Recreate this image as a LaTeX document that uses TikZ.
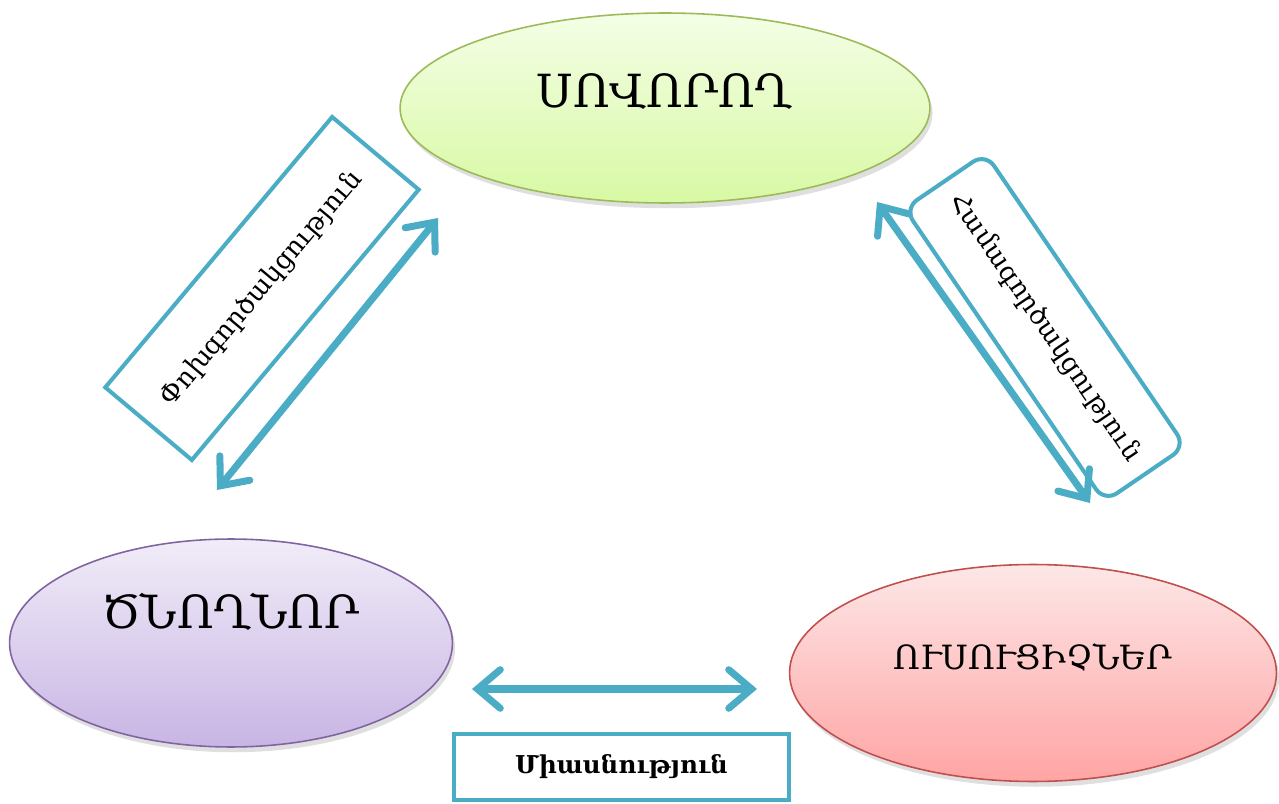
\documentclass[tikz,border=0pt]{standalone}
\usepackage{fontspec}
\setmainfont{DejaVu Serif}
\usetikzlibrary{arrows.meta,shapes.geometric,shadows}
\definecolor{linkblue}{HTML}{4BACC6}
\definecolor{learnerline}{HTML}{9BBB59}
\definecolor{learnertop}{HTML}{F4FEE6}
\definecolor{learnerbot}{HTML}{D8F9A4}
\definecolor{parentline}{HTML}{8064A2}
\definecolor{parenttop}{HTML}{F1ECF8}
\definecolor{parentbot}{HTML}{C8B5E4}
\definecolor{teacherline}{HTML}{C0504D}
\definecolor{teachertop}{HTML}{FDE7E7}
\definecolor{teacherbot}{HTML}{FFA4A4}
\begin{document}
\begin{tikzpicture}[x=0.02cm,y=-0.02cm,
	ell/.style={ellipse,draw,line width=0.9pt,inner sep=0pt,drop shadow={shadow xshift=1.5pt,shadow yshift=-3pt,opacity=0.25}},
	link/.style={linkblue,line width=4pt,>={Straight Barb[length=13pt,width=22pt,line cap=round,line join=miter]},<->},
	tag/.style={draw=linkblue,line width=2.3pt,fill=white,inner sep=0pt,font=\fontsize{15}{18}\selectfont}]
		\useasboundingbox (0,0) rectangle (1279,804);
		\node[ell,draw=learnerline,top color=learnertop,bottom color=learnerbot,minimum width=10.6cm,minimum height=3.8cm,
			label={[font=\fontsize{26}{30}\selectfont,yshift=0.33cm]center:ՍՈՎՈՐՈՂ}] (learner) at (665,108) {};
		\node[ell,draw=parentline,top color=parenttop,bottom color=parentbot,minimum width=8.86cm,minimum height=4.16cm,
			label={[font=\fontsize{26}{30}\selectfont,yshift=0.62cm]center:ԾՆՈՂՆՈՐ}] (parents) at (231,643) {};
		\node[ell,draw=teacherline,top color=teachertop,bottom color=teacherbot,minimum width=9.74cm,minimum height=4.34cm,
			label={[font=\fontsize{19}{22}\selectfont,yshift=0.32cm]center:ՈՒՍՈՒՑԻՉՆԵՐ}] (teachers) at (1033,673) {};
		\coordinate (swapA) at (217,490);
		\coordinate (swapB) at (438,218);
		\coordinate (coopA) at (877,202);
		\coordinate (coopB) at (1090,503);
		\coordinate (unityA) at (472,689);
		\coordinate (unityB) at (757,689);
		\node[tag,rotate=50,minimum width=7.06cm,minimum height=2.26cm] (swap) at (262,288.5) {Փոխգործակցություն};
		\node[tag,rotate=-55.7,rounded corners=0.3cm,minimum width=7.1cm,minimum height=1.96cm] (coop) at (1045,327.5) {Համագործակցություն};
		\node[tag,font=\fontsize{14}{17}\selectfont\bfseries,minimum width=6.7cm,minimum height=1.32cm] (unity) at (621.5,767) {Միասնություն};
		\draw[link] (swapA) to (swapB);
		\draw[link] (coopA) to (coopB);
		\draw[link] (unityA) to (unityB);
	\end{tikzpicture}
\end{document}
